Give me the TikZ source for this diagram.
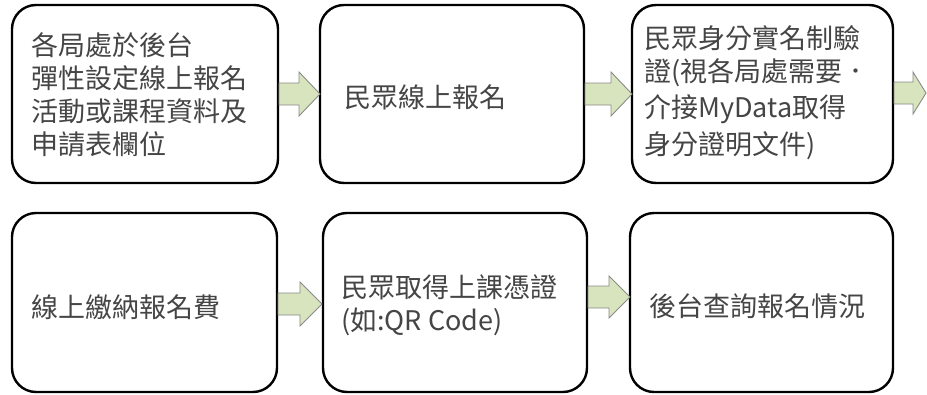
\documentclass[tikz,border=0pt]{standalone}
\usepackage{fontspec}
\setmainfont{Noto Sans CJK TC}
\definecolor{arrowfill}{HTML}{D7E4BD}
\definecolor{arrowline}{HTML}{8A8A8A}
\definecolor{txtcol}{HTML}{454545}
\begin{document}
\begin{tikzpicture}[x=1pt,y=-1pt,
  box/.style={draw=black,line width=2.4pt,rounded corners=24pt,fill=white},
  txt/.style={anchor=west,inner sep=0pt,align=left,text=txtcol,
    font=\fontsize{27pt}{33pt}\selectfont},
  blk/.style={fill=arrowfill,draw=arrowline,line width=0.9pt,line join=miter}]
\useasboundingbox (0,0) rectangle (927,394);
% boxes
\draw[box] (12,5) rectangle (278,183);
\node[inner sep=0pt] (b1) at (145,94) {};
\draw[box] (320,5) rectangle (584,183);
\node[inner sep=0pt] (b2) at (452,94) {};
\draw[box] (632,5) rectangle (893,183);
\node[inner sep=0pt] (b3) at (762,94) {};
\draw[box] (12,213) rectangle (277,392);
\node[inner sep=0pt] (b4) at (144,302) {};
\draw[box] (323,213) rectangle (587,392);
\node[inner sep=0pt] (b5) at (455,302) {};
\draw[box] (630,213) rectangle (893,392);
\node[inner sep=0pt] (b6) at (761,302) {};
% texts
\node[txt] (t1) at (31,95) {各局處於後台\\彈性設定線上報名\\活動或課程資料及\\申請表欄位};
\node[txt] (t2) at (344,97) {民眾線上報名};
\node[txt] (t3) at (644,93) {民眾身分實名制驗\\證(視各局處需要．\\[3pt]介接MyData取得\\[4pt]身分證明文件)};
\node[txt] (t4) at (31,307) {線上繳納報名費};
\node[txt] (t5) at (341,305) {民眾取得上課憑證\\(如:QR Code)};
\node[txt] (t6) at (649,306) {後台查詢報名情況};
% block arrows
\draw[blk] (279,83) -- (299,83) -- (299,72) -- (320,94) -- (299,116) -- (299,105) -- (279,105) -- cycle;
\draw[blk] (585,83) -- (611,83) -- (611,72) -- (632,94) -- (611,116) -- (611,105) -- (585,105) -- cycle;
\draw[blk] (894,82) -- (913,82) -- (913,72) -- (926,93) -- (913,114) -- (913,104) -- (894,104) -- cycle;
\draw[blk] (278,293) -- (300,293) -- (300,282) -- (322,304) -- (300,326) -- (300,315) -- (278,315) -- cycle;
\draw[blk] (588,286) -- (609,286) -- (609,276) -- (630,297) -- (609,318) -- (609,308) -- (588,308) -- cycle;
\end{tikzpicture}
\end{document}
